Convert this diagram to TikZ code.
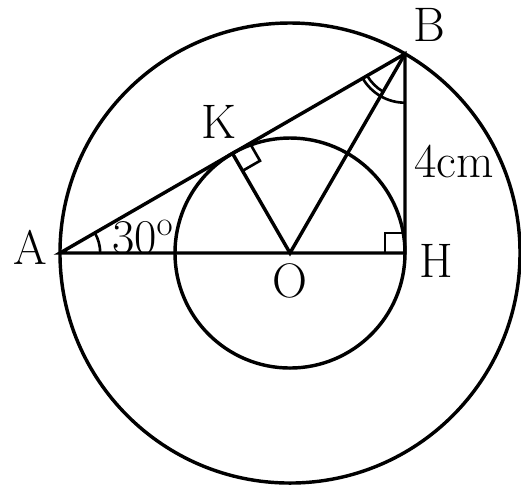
\documentclass[tikz,border=0pt]{standalone}
\usepackage{tikz}
\usetikzlibrary{positioning,calc}

\begin{document}
\begin{tikzpicture}[
	geo/.style={
		line width=1.7pt,
		draw=black
	},
	anglemark/.style={
		line width=1.3pt,
		draw=black
	},
	lbl/.style={
		font=\fontsize{24}{26}\selectfont,
		inner sep=1pt
	}
]
\useasboundingbox (-5.043,-4.157) rectangle (4.017,4.4);

\coordinate (O) at (0,0);
\coordinate (A) at (-4,0);
\coordinate (H) at (2,0);
\coordinate (B) at (2,3.4641);
\coordinate (K) at (-1,1.7321);

% circles
\draw[geo] (O) circle (4);
\draw[geo] (O) circle (2);

% triangle and segments
\draw[geo] (A) -- (B) -- (H) -- cycle;
\draw[geo] (K) -- (O) -- (B);

% right angles
\draw[anglemark] ($(K)!0.35cm!(B)$) -- ++(-60:0.35) -- ($(K)!0.35cm!(O)$);
\draw[anglemark] ($(H)+(-0.35,0)$) -- ++(0,0.35) -- ($(H)+(0,0.35)$);

% angle marks
\draw[anglemark] ($(A)+(0.7,0)$) arc[start angle=0, end angle=30, radius=0.7];
\draw[anglemark] ($(B)+(210:0.85)$) arc[start angle=210, end angle=270, radius=0.85];
\draw[anglemark] ($(B)+(210:0.76)$) arc[start angle=210, end angle=240, radius=0.76];

% labels
\node[lbl, left=5pt of A, yshift=3pt] (lA) {A};
\node[lbl, above right=5pt and 3pt of B] (lB) {B};
\node[lbl, above left=6pt and -3pt of K] (lK) {K};
\node[lbl, right=6pt of H, yshift=-4pt] (lH) {H};
\node[lbl, below=4pt of O] (lO) {O};
\node[lbl, anchor=west] (len) at (2.12,1.6) {4cm};
\node[lbl] (ang) at (-2.56,0.27) {30$^{\mathrm{o}}$};

\end{tikzpicture}
\end{document}
